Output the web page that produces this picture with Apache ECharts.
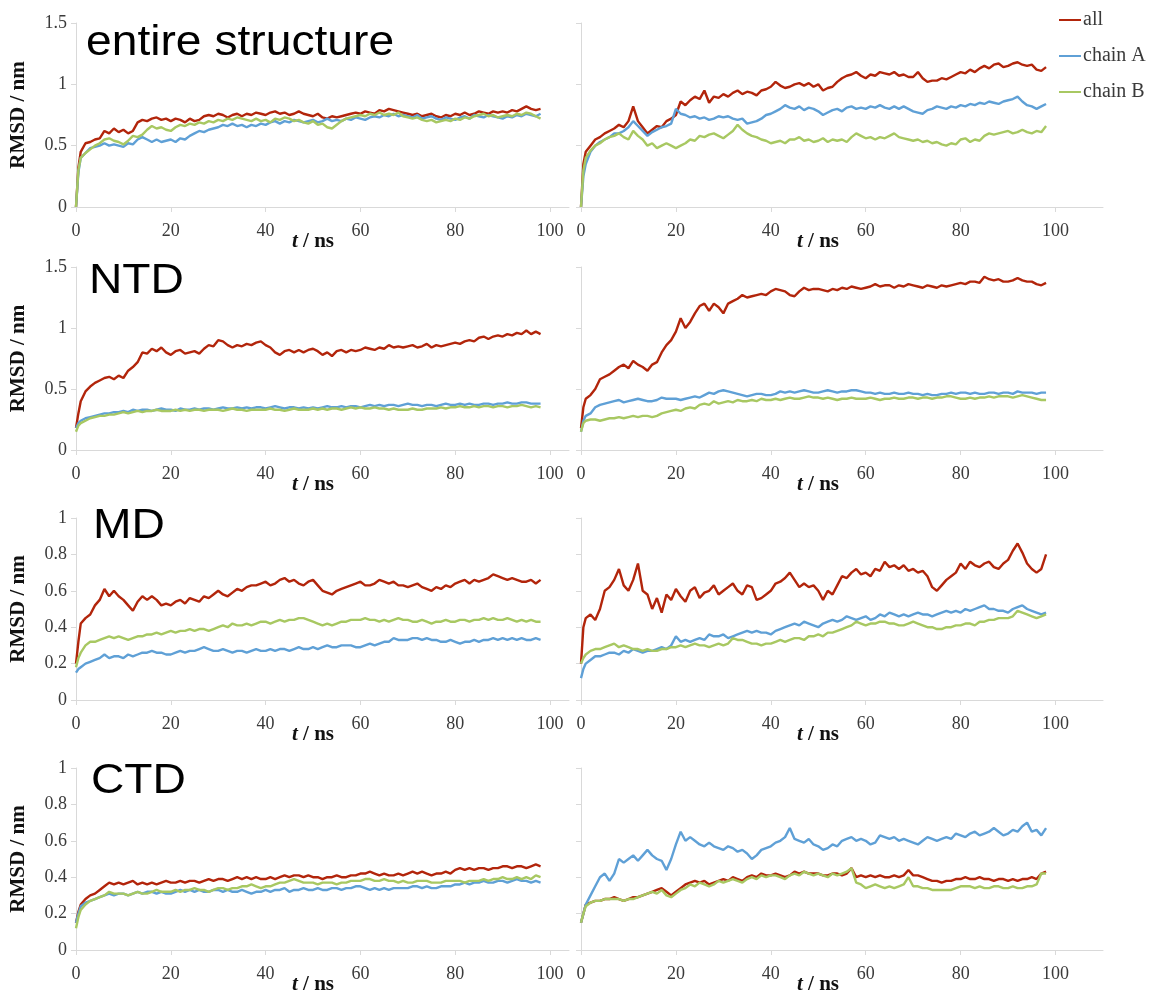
<!DOCTYPE html>
<html><head><meta charset="utf-8">
<script src="https://cdn.jsdelivr.net/npm/echarts@6/dist/echarts.min.js"></script>
<style>html,body{margin:0;padding:0;background:#fff}#c{width:1158px;height:1000px}</style>
</head><body><div id="c"></div>
<script>
// ---------------- data ----------------
const timeNs = [0,0.5,1,2,3,4,5,6,7,8, 9,10,11,12,13,14,15,16,17,18, 19,20,21,22,23,24,25,26,27,28, 29,30,31,32,33,34,35,36,37,38, 39,40,41,42,43,44,45,46,47,48, 49,50,51,52,53,54,55,56,57,58, 59,60,61,62,63,64,65,66,67,68, 69,70,71,72,73,74,75,76,77,78, 79,80,81,82,83,84,85,86,87,88, 89,90,91,92,93,94,95,96,97,98];
const xTickLabels = [0,20,40,60,80,100];
const seriesNames = ['all','chain A','chain B'];
const panelTitles = ['entire structure','NTD','MD','CTD'];

// entire structure, left
const entL_all = [0,0.32,0.45,0.52,0.53,0.55,0.56,0.62,0.6,0.64, 0.61,0.63,0.6,0.62,0.69,0.71,0.7,0.72,0.73,0.71, 0.72,0.7,0.72,0.71,0.69,0.72,0.7,0.71,0.74,0.75, 0.74,0.76,0.75,0.73,0.75,0.76,0.74,0.76,0.75,0.77, 0.76,0.75,0.77,0.78,0.76,0.77,0.75,0.76,0.78,0.76, 0.75,0.74,0.76,0.73,0.72,0.74,0.73,0.74,0.75,0.76, 0.77,0.76,0.78,0.77,0.76,0.79,0.78,0.8,0.79,0.78, 0.77,0.76,0.75,0.76,0.74,0.75,0.76,0.74,0.73,0.75, 0.74,0.76,0.75,0.77,0.75,0.76,0.78,0.77,0.76,0.78, 0.77,0.78,0.77,0.79,0.78,0.8,0.82,0.8,0.79,0.8];
const entL_A = [0,0.28,0.4,0.44,0.48,0.49,0.5,0.52,0.5,0.51, 0.5,0.49,0.52,0.51,0.55,0.57,0.55,0.53,0.55,0.53, 0.54,0.55,0.53,0.56,0.55,0.58,0.6,0.62,0.61,0.63, 0.64,0.65,0.67,0.66,0.68,0.66,0.67,0.65,0.67,0.66, 0.68,0.67,0.69,0.7,0.68,0.7,0.69,0.71,0.7,0.69, 0.7,0.71,0.69,0.7,0.72,0.7,0.71,0.7,0.72,0.71, 0.73,0.72,0.71,0.73,0.74,0.73,0.75,0.74,0.76,0.74, 0.75,0.74,0.73,0.75,0.72,0.73,0.74,0.72,0.71,0.73, 0.72,0.71,0.73,0.74,0.72,0.75,0.74,0.73,0.75,0.74, 0.73,0.72,0.74,0.73,0.75,0.74,0.76,0.75,0.74,0.76];
const entL_B = [0,0.3,0.4,0.44,0.47,0.5,0.52,0.55,0.56,0.54, 0.53,0.51,0.54,0.58,0.57,0.59,0.63,0.66,0.64,0.65, 0.63,0.62,0.65,0.67,0.66,0.68,0.67,0.69,0.68,0.7, 0.69,0.71,0.7,0.72,0.71,0.73,0.72,0.71,0.7,0.72, 0.7,0.71,0.69,0.72,0.71,0.73,0.72,0.7,0.71,0.69, 0.68,0.7,0.67,0.68,0.65,0.64,0.67,0.7,0.72,0.73, 0.74,0.75,0.74,0.76,0.75,0.77,0.75,0.76,0.75,0.77, 0.74,0.73,0.72,0.73,0.71,0.7,0.71,0.69,0.7,0.71, 0.7,0.72,0.71,0.73,0.72,0.74,0.75,0.76,0.74,0.75, 0.73,0.74,0.75,0.74,0.76,0.75,0.77,0.76,0.74,0.72];
// entire structure, right
const entR_all = [0,0.35,0.45,0.5,0.55,0.57,0.6,0.62,0.64,0.67, 0.65,0.7,0.82,0.7,0.65,0.6,0.63,0.66,0.65,0.7, 0.72,0.75,0.86,0.83,0.87,0.9,0.88,0.95,0.85,0.9, 0.89,0.92,0.9,0.93,0.95,0.92,0.94,0.93,0.91,0.95, 0.96,0.98,1.02,0.99,0.97,0.98,1.0,1.01,0.99,1.01, 0.98,1.0,0.95,0.97,0.98,1.02,1.05,1.07,1.08,1.1, 1.07,1.05,1.08,1.07,1.1,1.09,1.08,1.1,1.07,1.08, 1.06,1.06,1.1,1.05,1.02,1.03,1.03,1.05,1.04,1.06, 1.08,1.1,1.09,1.12,1.1,1.13,1.15,1.13,1.16,1.17, 1.14,1.15,1.17,1.18,1.16,1.15,1.16,1.12,1.11,1.14];
const entR_A = [0,0.25,0.35,0.45,0.5,0.53,0.55,0.57,0.6,0.6, 0.62,0.65,0.7,0.66,0.62,0.58,0.61,0.63,0.65,0.66, 0.68,0.8,0.76,0.75,0.73,0.74,0.72,0.73,0.71,0.72, 0.74,0.73,0.74,0.72,0.71,0.72,0.68,0.69,0.7,0.72, 0.75,0.76,0.78,0.8,0.83,0.81,0.8,0.82,0.79,0.81, 0.8,0.78,0.75,0.77,0.79,0.8,0.78,0.81,0.82,0.8, 0.81,0.8,0.82,0.81,0.83,0.81,0.8,0.82,0.8,0.82, 0.8,0.78,0.77,0.76,0.79,0.8,0.82,0.81,0.8,0.82, 0.81,0.83,0.82,0.84,0.83,0.85,0.84,0.86,0.85,0.84, 0.86,0.87,0.88,0.9,0.86,0.83,0.82,0.8,0.82,0.84];
const entR_B = [0,0.3,0.4,0.46,0.5,0.52,0.55,0.57,0.58,0.6, 0.57,0.55,0.62,0.58,0.55,0.5,0.52,0.48,0.5,0.52, 0.5,0.48,0.5,0.52,0.55,0.54,0.58,0.57,0.59,0.6, 0.58,0.56,0.59,0.62,0.67,0.63,0.6,0.58,0.57,0.55, 0.54,0.52,0.53,0.54,0.52,0.55,0.55,0.57,0.54,0.55, 0.53,0.54,0.56,0.53,0.55,0.54,0.55,0.53,0.57,0.6, 0.58,0.56,0.57,0.55,0.57,0.56,0.58,0.6,0.57,0.56, 0.55,0.54,0.55,0.53,0.54,0.52,0.53,0.51,0.5,0.52, 0.51,0.55,0.56,0.53,0.55,0.54,0.58,0.6,0.59,0.6, 0.61,0.62,0.6,0.61,0.63,0.61,0.6,0.62,0.61,0.66];
// NTD, left
const ntdL_all = [0.18,0.3,0.4,0.48,0.52,0.55,0.57,0.59,0.6,0.58, 0.61,0.59,0.65,0.68,0.72,0.8,0.79,0.83,0.81,0.84, 0.8,0.78,0.81,0.82,0.79,0.8,0.81,0.79,0.83,0.86, 0.85,0.9,0.89,0.86,0.84,0.86,0.85,0.87,0.86,0.88, 0.89,0.86,0.84,0.8,0.78,0.81,0.82,0.8,0.82,0.8, 0.82,0.83,0.81,0.78,0.8,0.77,0.81,0.82,0.8,0.82, 0.81,0.82,0.84,0.83,0.82,0.84,0.83,0.86,0.84,0.85, 0.84,0.85,0.86,0.84,0.85,0.87,0.84,0.86,0.85,0.86, 0.87,0.88,0.87,0.89,0.9,0.89,0.92,0.93,0.91,0.93, 0.94,0.93,0.95,0.94,0.96,0.95,0.98,0.95,0.97,0.95];
const ntdL_A = [0.18,0.22,0.24,0.26,0.27,0.28,0.29,0.3,0.3,0.31, 0.31,0.32,0.31,0.33,0.32,0.33,0.33,0.32,0.33,0.34, 0.33,0.33,0.32,0.34,0.33,0.33,0.34,0.33,0.34,0.34, 0.33,0.34,0.35,0.34,0.34,0.35,0.34,0.35,0.34,0.35, 0.35,0.34,0.35,0.36,0.35,0.34,0.35,0.35,0.34,0.35, 0.34,0.35,0.34,0.35,0.36,0.35,0.35,0.36,0.35,0.36, 0.36,0.35,0.36,0.37,0.36,0.37,0.36,0.37,0.37,0.36, 0.37,0.38,0.37,0.37,0.36,0.37,0.37,0.36,0.37,0.38, 0.37,0.37,0.38,0.37,0.38,0.37,0.37,0.38,0.38,0.37, 0.38,0.38,0.39,0.38,0.38,0.39,0.39,0.38,0.38,0.38];
const ntdL_B = [0.15,0.2,0.22,0.24,0.26,0.27,0.28,0.28,0.29,0.29, 0.3,0.31,0.3,0.31,0.32,0.31,0.32,0.32,0.33,0.32, 0.32,0.32,0.33,0.32,0.33,0.32,0.33,0.33,0.32,0.33, 0.33,0.33,0.32,0.33,0.34,0.33,0.33,0.32,0.33,0.33, 0.33,0.33,0.34,0.33,0.33,0.32,0.33,0.34,0.33,0.33, 0.33,0.34,0.33,0.34,0.33,0.34,0.34,0.33,0.34,0.35, 0.34,0.35,0.34,0.34,0.35,0.34,0.34,0.33,0.34,0.33, 0.33,0.33,0.34,0.33,0.33,0.34,0.34,0.34,0.35,0.34, 0.35,0.35,0.36,0.35,0.35,0.36,0.35,0.36,0.36,0.35, 0.36,0.36,0.35,0.36,0.36,0.37,0.36,0.35,0.36,0.35];
// NTD, right
const ntdR_all = [0.18,0.35,0.42,0.45,0.5,0.58,0.6,0.62,0.65,0.68, 0.7,0.67,0.73,0.7,0.68,0.65,0.7,0.72,0.8,0.86, 0.9,0.97,1.08,1.0,1.05,1.12,1.18,1.2,1.14,1.2, 1.17,1.12,1.2,1.22,1.24,1.27,1.25,1.26,1.27,1.28, 1.27,1.3,1.32,1.31,1.3,1.27,1.26,1.3,1.33,1.31, 1.32,1.32,1.31,1.3,1.32,1.31,1.33,1.32,1.34,1.33, 1.32,1.33,1.34,1.36,1.34,1.35,1.35,1.33,1.35,1.34, 1.36,1.35,1.34,1.33,1.35,1.34,1.33,1.35,1.34,1.35, 1.36,1.37,1.36,1.38,1.38,1.37,1.42,1.4,1.39,1.4, 1.38,1.38,1.39,1.41,1.39,1.38,1.38,1.36,1.35,1.37];
const ntdR_A = [0.15,0.24,0.28,0.3,0.35,0.37,0.38,0.39,0.4,0.41, 0.39,0.4,0.41,0.42,0.41,0.4,0.4,0.41,0.43,0.42, 0.42,0.42,0.41,0.42,0.43,0.44,0.43,0.45,0.47,0.46, 0.48,0.49,0.48,0.47,0.46,0.45,0.44,0.45,0.46,0.46, 0.45,0.45,0.46,0.48,0.47,0.48,0.47,0.48,0.49,0.48, 0.47,0.47,0.48,0.49,0.48,0.47,0.48,0.48,0.49,0.49, 0.48,0.47,0.47,0.46,0.47,0.46,0.46,0.47,0.46,0.46, 0.47,0.46,0.46,0.45,0.46,0.45,0.45,0.46,0.46,0.47, 0.46,0.47,0.47,0.46,0.47,0.46,0.46,0.47,0.47,0.46, 0.47,0.47,0.46,0.48,0.47,0.47,0.47,0.46,0.47,0.47];
const ntdR_B = [0.15,0.22,0.24,0.25,0.25,0.24,0.25,0.26,0.26,0.27, 0.26,0.27,0.28,0.27,0.28,0.28,0.27,0.28,0.3,0.31, 0.32,0.33,0.32,0.34,0.35,0.34,0.37,0.38,0.37,0.4, 0.38,0.39,0.4,0.39,0.41,0.4,0.4,0.41,0.4,0.42, 0.41,0.41,0.42,0.41,0.42,0.43,0.42,0.42,0.43,0.44, 0.43,0.43,0.42,0.43,0.42,0.41,0.42,0.42,0.43,0.42, 0.42,0.42,0.43,0.42,0.41,0.42,0.42,0.43,0.42,0.42, 0.43,0.43,0.42,0.43,0.43,0.42,0.43,0.43,0.44,0.44, 0.43,0.42,0.42,0.43,0.42,0.43,0.43,0.44,0.43,0.44, 0.44,0.44,0.43,0.44,0.45,0.44,0.43,0.42,0.41,0.41];
// MD, left
const mdL_all = [0.2,0.32,0.42,0.45,0.47,0.52,0.55,0.61,0.57,0.6, 0.57,0.55,0.52,0.49,0.54,0.57,0.55,0.57,0.55,0.52, 0.53,0.52,0.54,0.55,0.53,0.56,0.55,0.54,0.57,0.56, 0.58,0.6,0.58,0.57,0.59,0.61,0.6,0.62,0.63,0.63, 0.64,0.65,0.63,0.64,0.66,0.67,0.65,0.66,0.64,0.63, 0.65,0.66,0.63,0.6,0.59,0.58,0.6,0.61,0.62,0.63, 0.64,0.65,0.63,0.63,0.64,0.66,0.65,0.64,0.65,0.63, 0.63,0.62,0.63,0.64,0.62,0.61,0.6,0.62,0.61,0.63, 0.62,0.64,0.65,0.66,0.64,0.66,0.65,0.66,0.67,0.69, 0.68,0.67,0.66,0.67,0.66,0.65,0.65,0.66,0.64,0.66];
const mdL_A = [0.15,0.17,0.18,0.2,0.21,0.22,0.23,0.25,0.23,0.24, 0.24,0.23,0.25,0.24,0.25,0.26,0.26,0.27,0.26,0.26, 0.25,0.25,0.26,0.27,0.26,0.27,0.27,0.28,0.29,0.28, 0.27,0.27,0.28,0.27,0.26,0.27,0.27,0.26,0.27,0.28, 0.27,0.27,0.28,0.27,0.28,0.28,0.27,0.28,0.29,0.28, 0.28,0.29,0.28,0.29,0.3,0.29,0.29,0.3,0.3,0.3, 0.29,0.29,0.3,0.31,0.3,0.31,0.32,0.32,0.34,0.33, 0.33,0.33,0.34,0.34,0.33,0.34,0.33,0.33,0.32,0.32, 0.33,0.32,0.31,0.32,0.32,0.33,0.32,0.33,0.33,0.34, 0.33,0.34,0.33,0.34,0.33,0.34,0.33,0.33,0.34,0.33];
const mdL_B = [0.18,0.23,0.26,0.3,0.32,0.32,0.33,0.34,0.35,0.34, 0.35,0.34,0.33,0.34,0.35,0.35,0.36,0.36,0.37,0.36, 0.37,0.38,0.37,0.38,0.38,0.39,0.38,0.39,0.39,0.38, 0.39,0.4,0.41,0.4,0.42,0.41,0.41,0.42,0.41,0.42, 0.43,0.43,0.42,0.43,0.44,0.43,0.44,0.44,0.45,0.45, 0.44,0.43,0.42,0.41,0.42,0.41,0.42,0.43,0.43,0.44, 0.44,0.44,0.45,0.44,0.44,0.43,0.44,0.43,0.44,0.45, 0.44,0.44,0.43,0.43,0.44,0.43,0.42,0.43,0.43,0.44, 0.43,0.43,0.44,0.44,0.43,0.44,0.44,0.45,0.44,0.45, 0.44,0.44,0.45,0.44,0.43,0.44,0.43,0.44,0.43,0.43];
// MD, right
const mdR_all = [0.2,0.4,0.45,0.47,0.44,0.5,0.6,0.62,0.66,0.72, 0.63,0.6,0.66,0.75,0.6,0.58,0.5,0.56,0.48,0.58, 0.55,0.61,0.57,0.54,0.6,0.62,0.56,0.59,0.6,0.63, 0.58,0.6,0.62,0.64,0.6,0.58,0.63,0.62,0.55,0.56, 0.58,0.6,0.64,0.65,0.67,0.7,0.66,0.62,0.64,0.62, 0.63,0.6,0.55,0.6,0.58,0.63,0.68,0.67,0.7,0.72, 0.69,0.7,0.68,0.72,0.71,0.76,0.73,0.74,0.72,0.74, 0.71,0.72,0.7,0.71,0.68,0.62,0.6,0.63,0.66,0.68, 0.7,0.75,0.72,0.76,0.74,0.73,0.75,0.76,0.73,0.72, 0.75,0.77,0.82,0.86,0.81,0.75,0.72,0.7,0.72,0.8];
const mdR_A = [0.12,0.17,0.2,0.22,0.24,0.24,0.25,0.26,0.26,0.25, 0.27,0.26,0.28,0.27,0.26,0.27,0.27,0.28,0.29,0.28, 0.3,0.35,0.32,0.33,0.32,0.33,0.34,0.33,0.36,0.35, 0.35,0.36,0.34,0.35,0.36,0.37,0.38,0.37,0.38,0.37, 0.37,0.36,0.38,0.39,0.4,0.41,0.42,0.41,0.43,0.42, 0.41,0.4,0.42,0.43,0.44,0.43,0.44,0.46,0.45,0.44, 0.45,0.46,0.44,0.45,0.47,0.46,0.48,0.47,0.46,0.47, 0.46,0.47,0.48,0.47,0.47,0.46,0.47,0.48,0.49,0.48, 0.49,0.48,0.5,0.49,0.5,0.51,0.52,0.5,0.5,0.49, 0.49,0.48,0.5,0.51,0.52,0.5,0.49,0.48,0.47,0.48];
const mdR_B = [0.2,0.23,0.25,0.27,0.28,0.28,0.29,0.3,0.31,0.29, 0.3,0.29,0.28,0.28,0.27,0.28,0.27,0.27,0.28,0.28, 0.29,0.29,0.3,0.29,0.3,0.31,0.3,0.3,0.29,0.3, 0.31,0.3,0.31,0.34,0.33,0.33,0.32,0.31,0.31,0.3, 0.31,0.31,0.32,0.33,0.32,0.33,0.34,0.34,0.33,0.35, 0.35,0.36,0.35,0.37,0.37,0.38,0.39,0.4,0.41,0.43, 0.42,0.41,0.42,0.42,0.43,0.43,0.42,0.42,0.41,0.41, 0.42,0.43,0.42,0.41,0.4,0.4,0.39,0.39,0.4,0.4, 0.41,0.41,0.42,0.42,0.41,0.43,0.43,0.44,0.44,0.45, 0.45,0.45,0.46,0.49,0.48,0.47,0.46,0.45,0.46,0.47];
// CTD, left
const ctdL_all = [0.15,0.21,0.25,0.28,0.3,0.31,0.33,0.35,0.37,0.36, 0.37,0.36,0.37,0.38,0.36,0.37,0.36,0.37,0.36,0.37, 0.38,0.37,0.37,0.38,0.37,0.38,0.38,0.37,0.38,0.39, 0.38,0.39,0.39,0.38,0.39,0.4,0.39,0.4,0.39,0.4, 0.39,0.39,0.4,0.39,0.4,0.41,0.4,0.41,0.41,0.4, 0.41,0.4,0.4,0.39,0.4,0.4,0.41,0.4,0.4,0.41, 0.41,0.42,0.42,0.43,0.42,0.41,0.42,0.41,0.41,0.42, 0.41,0.42,0.43,0.42,0.43,0.42,0.41,0.42,0.42,0.43, 0.42,0.44,0.45,0.44,0.45,0.44,0.45,0.45,0.44,0.45, 0.45,0.46,0.46,0.45,0.46,0.46,0.45,0.46,0.47,0.46];
const ctdL_A = [0.15,0.2,0.24,0.26,0.27,0.28,0.29,0.3,0.31,0.3, 0.31,0.31,0.3,0.31,0.32,0.31,0.32,0.32,0.31,0.32, 0.31,0.31,0.32,0.33,0.32,0.33,0.32,0.33,0.32,0.32, 0.33,0.33,0.32,0.33,0.32,0.32,0.33,0.32,0.31,0.32, 0.32,0.33,0.32,0.33,0.33,0.34,0.32,0.33,0.33,0.34, 0.33,0.33,0.34,0.33,0.33,0.34,0.34,0.33,0.34,0.34, 0.35,0.35,0.34,0.33,0.34,0.33,0.34,0.33,0.34,0.34, 0.34,0.34,0.35,0.35,0.34,0.35,0.34,0.34,0.35,0.35, 0.35,0.36,0.36,0.37,0.36,0.37,0.37,0.38,0.37,0.37, 0.38,0.38,0.37,0.38,0.39,0.38,0.38,0.37,0.38,0.37];
const ctdL_B = [0.12,0.18,0.22,0.25,0.27,0.28,0.29,0.3,0.32,0.31, 0.31,0.31,0.3,0.31,0.32,0.31,0.31,0.32,0.33,0.32, 0.32,0.32,0.33,0.32,0.33,0.33,0.34,0.33,0.33,0.32, 0.33,0.34,0.34,0.33,0.34,0.34,0.35,0.35,0.36,0.35, 0.34,0.35,0.35,0.36,0.37,0.37,0.38,0.39,0.38,0.37, 0.37,0.37,0.36,0.37,0.37,0.37,0.36,0.37,0.37,0.38, 0.38,0.38,0.39,0.39,0.38,0.38,0.39,0.38,0.38,0.37, 0.38,0.37,0.37,0.38,0.38,0.38,0.37,0.37,0.37,0.38, 0.38,0.38,0.38,0.37,0.38,0.38,0.38,0.39,0.38,0.39, 0.39,0.4,0.39,0.39,0.4,0.39,0.4,0.39,0.41,0.4];
// CTD, right
const ctdR_all = [0.15,0.2,0.25,0.26,0.27,0.27,0.28,0.28,0.29,0.28, 0.27,0.28,0.29,0.29,0.3,0.31,0.32,0.33,0.34,0.32, 0.3,0.32,0.34,0.36,0.37,0.38,0.37,0.38,0.36,0.37, 0.38,0.39,0.38,0.4,0.39,0.38,0.4,0.41,0.4,0.42, 0.41,0.41,0.42,0.41,0.4,0.41,0.43,0.42,0.43,0.42, 0.42,0.42,0.41,0.41,0.42,0.42,0.41,0.42,0.45,0.4, 0.41,0.4,0.41,0.4,0.41,0.4,0.4,0.41,0.4,0.41, 0.44,0.41,0.41,0.4,0.39,0.38,0.38,0.37,0.38,0.38, 0.39,0.39,0.4,0.39,0.39,0.4,0.39,0.39,0.38,0.39, 0.39,0.38,0.39,0.38,0.39,0.39,0.4,0.39,0.42,0.43];
const ctdR_A = [0.15,0.2,0.25,0.3,0.35,0.4,0.42,0.38,0.42,0.5, 0.48,0.5,0.52,0.49,0.52,0.55,0.52,0.5,0.49,0.44, 0.5,0.58,0.65,0.6,0.62,0.6,0.58,0.57,0.59,0.57, 0.56,0.55,0.57,0.56,0.54,0.55,0.53,0.5,0.52,0.55, 0.56,0.57,0.59,0.6,0.62,0.67,0.61,0.6,0.59,0.61, 0.58,0.57,0.55,0.56,0.58,0.57,0.6,0.61,0.62,0.6, 0.61,0.6,0.58,0.59,0.63,0.62,0.61,0.62,0.6,0.61, 0.6,0.59,0.58,0.6,0.62,0.61,0.6,0.61,0.62,0.61, 0.64,0.63,0.62,0.64,0.65,0.63,0.64,0.65,0.67,0.65, 0.63,0.64,0.66,0.65,0.68,0.7,0.65,0.66,0.63,0.67];
const ctdR_B = [0.15,0.2,0.24,0.26,0.27,0.27,0.28,0.28,0.28,0.28, 0.27,0.28,0.28,0.29,0.3,0.31,0.32,0.31,0.33,0.3, 0.29,0.31,0.33,0.34,0.36,0.35,0.37,0.36,0.35,0.36, 0.38,0.37,0.38,0.39,0.38,0.37,0.39,0.4,0.39,0.41, 0.4,0.41,0.41,0.4,0.39,0.41,0.42,0.41,0.43,0.42, 0.41,0.42,0.41,0.4,0.42,0.41,0.42,0.43,0.45,0.37, 0.36,0.34,0.35,0.36,0.35,0.34,0.35,0.34,0.35,0.36, 0.4,0.35,0.35,0.34,0.34,0.33,0.33,0.33,0.33,0.33, 0.34,0.35,0.35,0.35,0.34,0.35,0.34,0.34,0.35,0.35, 0.34,0.34,0.35,0.34,0.34,0.35,0.35,0.36,0.42,0.42];

// ---------------- chart ----------------
const colors = ['#B2250B', '#5FA0D6', '#A8C862'];
const panels = [
  {row:0, col:0, data:[entL_all, entL_A, entL_B]},
  {row:0, col:1, data:[entR_all, entR_A, entR_B]},
  {row:1, col:0, data:[ntdL_all, ntdL_A, ntdL_B]},
  {row:1, col:1, data:[ntdR_all, ntdR_A, ntdR_B]},
  {row:2, col:0, data:[mdL_all, mdL_A, mdL_B]},
  {row:2, col:1, data:[mdR_all, mdR_A, mdR_B]},
  {row:3, col:0, data:[ctdL_all, ctdL_A, ctdL_B]},
  {row:3, col:1, data:[ctdR_all, ctdR_A, ctdR_B]}
];
const rows = [
  {top:23, h:184, max:1.5, interval:0.5, titleY:43, titleX:86},
  {top:267, h:183, max:1.5, interval:0.5, titleY:281, titleX:89},
  {top:518, h:182, max:1, interval:0.2, titleY:526, titleX:93},
  {top:768, h:182, max:1, interval:0.2, titleY:781, titleX:91}
];
const cols = [
  {left:76, w:493, max:104, namePad:19},
  {left:581, w:522, max:110, namePad:48}
];
const serif = 'Liberation Serif';
const axisGray = '#d9d9d9';
const labelColor = '#3a3a3a';

const grid = [], xAxis = [], yAxis = [], series = [];
panels.forEach((p, i) => {
  const r = rows[p.row], c = cols[p.col];
  grid.push({left:c.left, top:r.top, width:c.w, height:r.h, outerBoundsMode:'none', containLabel:false});
  xAxis.push({
    type:'value', gridIndex:i, min:0, max:c.max, interval:20,
    axisLine:{lineStyle:{color:axisGray, width:1}},
    axisTick:{show:true, length:5, lineStyle:{color:axisGray}, customValues:xTickLabels},
    axisLabel:{color:labelColor, fontFamily:serif, fontSize:18, margin:15, customValues:xTickLabels},
    splitLine:{show:false},
    name:'{i|t}{b| / ns}', nameLocation:'middle', nameGap:24, nameMoveOverlap:false,
    nameTextStyle:{padding:[0, c.namePad, 0, 0],
      rich:{i:{fontFamily:serif, fontStyle:'italic', fontWeight:'bold', fontSize:21, color:'#111'},
            b:{fontFamily:serif, fontWeight:'bold', fontSize:21, color:'#111'}}}
  });
  yAxis.push({
    type:'value', gridIndex:i, min:0, max:r.max, interval:r.interval,
    axisLine:{show:true, lineStyle:{color:axisGray, width:1}},
    axisTick:{show:true, length:5, lineStyle:{color:axisGray}},
    axisLabel:{show:p.col===0, color:labelColor, fontFamily:serif, fontSize:18, margin:9},
    splitLine:{show:false},
    name: p.col===0 ? 'RMSD / nm' : '', nameLocation:'middle', nameGap:47, nameRotate:90, nameMoveOverlap:false,
    nameTextStyle:{fontFamily:serif, fontWeight:'bold', fontSize:21, color:'#111'}
  });
  p.data.forEach((vals, k) => {
    series.push({
      name:seriesNames[k], type:'line', xAxisIndex:i, yAxisIndex:i,
      data: timeNs.map((t, j) => [t, vals[j]]),
      showSymbol:false, symbol:'none', smooth:false,
      lineStyle:{color:colors[k], width:2.4}, itemStyle:{color:colors[k]},
      z: 2 + k, silent:true
    });
  });
});

const graphic = rows.map((r, i) => ({
  type:'text', x:r.titleX, y:r.titleY, scaleX:1.1, silent:true,
  style:{text:panelTitles[i], fontFamily:'Liberation Sans', fontSize:42, fill:'#000', align:'left', verticalAlign:'middle'}
}));

const chart = echarts.init(document.getElementById('c'), null, {renderer:'canvas'});
chart.setOption({
  animation:false,
  backgroundColor:'#fff',
  grid, xAxis, yAxis, series, graphic,
  legend:{
    data:seriesNames, orient:'vertical', left:1059, top:10, padding:0,
    icon:'rect', itemWidth:22, itemHeight:2, itemGap:16,
    textStyle:{fontFamily:serif, fontSize:20, color:labelColor, padding:[0,0,0,-3]},
    selectedMode:false
  }
});
</script>
</body></html>
